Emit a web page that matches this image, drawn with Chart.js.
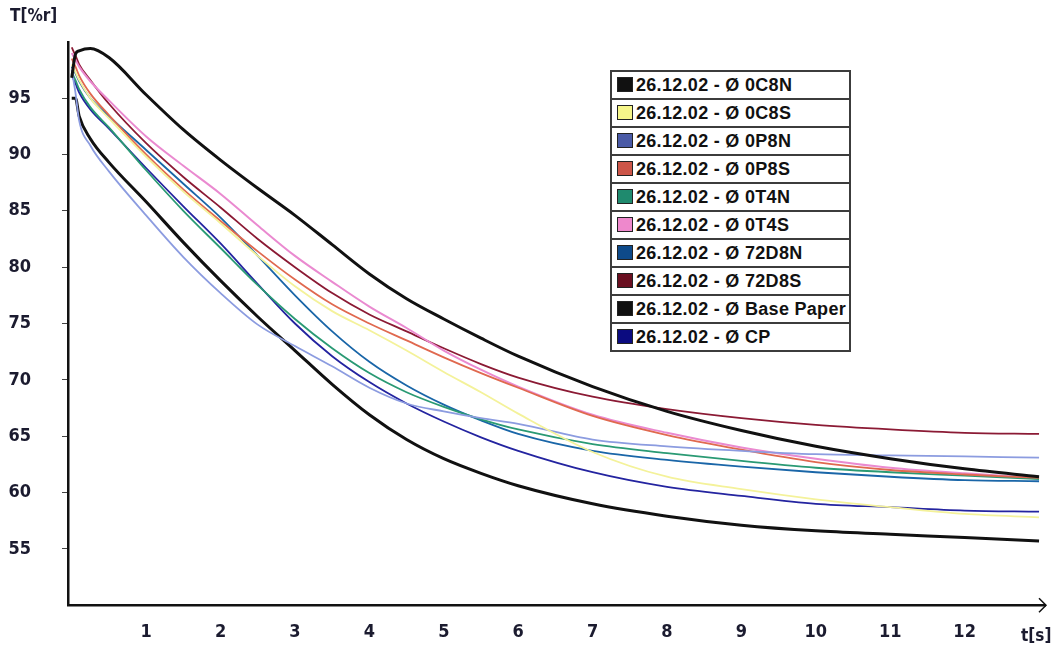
<!DOCTYPE html>
<html>
<head>
<meta charset="utf-8">
<script src="https://cdn.jsdelivr.net/npm/chart.js@4.4.1/dist/chart.umd.min.js"></script>
<style>
  html, body { margin: 0; padding: 0; background: #fff; }
  #wrap { position: relative; width: 1051px; height: 647px; overflow: hidden; }
  #chart { position: absolute; left: 0; top: 0; }
  .axisTitle { position: absolute; font: bold 17px "Liberation Sans Narrow", "DejaVu Sans Condensed", sans-serif; color: #1b1b2f; }
  #legend { position: absolute; left: 610px; top: 70px; width: 241px; table-layout: fixed; border-collapse: collapse; background: #fff; }
  #legend td { border: 2px solid #3c3c3c; height: 26px; padding: 0 0 0 5px; overflow: hidden;
    font: bold 18px "Liberation Sans", Arial, sans-serif; letter-spacing: 0.3px; color: #111; white-space: nowrap; }
  .sw { display: inline-block; width: 14px; height: 13px; border: 1px solid #222; vertical-align: -1px; margin-right: 3px; }
</style>
</head>
<body>
<div id="wrap">
  <canvas id="chart" width="1051" height="647"></canvas>
  <div class="axisTitle" style="left:10px; top:5px;">T[%r]</div>
  <div class="axisTitle" style="left:1021px; top:625px;">t[s]</div>
  <table id="legend"></table>
</div>
<script>
// time axis (s)
const times = [0, 0.05, 0.1, 0.25, 0.5, 1, 1.5, 2, 2.5, 3, 3.5, 4, 4.5, 5, 5.5, 6, 7, 8, 9, 10, 11, 12, 13];

const seriesNames = [
  '26.12.02 - Ø 0C8N', '26.12.02 - Ø 0C8S', '26.12.02 - Ø 0P8N', '26.12.02 - Ø 0P8S', '26.12.02 - Ø 0T4N',
  '26.12.02 - Ø 0T4S', '26.12.02 - Ø 72D8N', '26.12.02 - Ø 72D8S', '26.12.02 - Ø Base Paper', '26.12.02 - Ø CP'
];

// T [%r]
const s0C8N  = [96.8, 98.9, 99.2, 99.4, 98.6, 95.3, 92.2, 89.5, 87.0, 84.6, 82.0, 79.4, 77.2, 75.4, 73.7, 72.1, 69.4, 67.2, 65.5, 64.1, 63.0, 62.1, 61.4];
const s0C8S  = [98.0, 97.3, 96.6, 95.0, 93.2, 89.8, 86.7, 83.9, 81.0, 78.3, 76.1, 74.4, 72.6, 70.7, 68.9, 67.0, 63.6, 61.4, 60.3, 59.4, 58.7, 58.1, 57.8];
const s0P8N  = [97.5, 95.5, 93.0, 90.8, 88.5, 84.6, 80.9, 77.7, 74.9, 73.0, 71.2, 69.3, 67.9, 67.2, 66.6, 66.1, 64.7, 64.1, 63.7, 63.4, 63.3, 63.2, 63.1];
const s0P8S  = [98.5, 97.8, 97.0, 95.4, 93.5, 90.0, 86.9, 84.1, 81.4, 78.9, 76.7, 75.0, 73.5, 72.0, 70.6, 69.3, 66.8, 65.1, 63.8, 62.7, 62.0, 61.6, 61.3];
const s0T4N  = [97.3, 96.6, 95.8, 94.2, 92.4, 88.6, 85.0, 81.7, 78.4, 75.4, 72.8, 70.6, 68.9, 67.6, 66.5, 65.6, 64.3, 63.5, 62.8, 62.2, 61.8, 61.5, 61.2];
const s0T4S  = [99.0, 98.4, 97.8, 96.5, 94.8, 91.6, 89.0, 86.5, 83.7, 81.0, 78.7, 76.5, 74.6, 72.6, 70.9, 69.4, 66.9, 65.3, 64.0, 63.0, 62.2, 61.7, 61.3];
const s72D8N = [97.8, 97.2, 96.5, 95.0, 93.4, 90.4, 87.4, 84.4, 81.0, 77.5, 74.3, 71.6, 69.5, 67.8, 66.4, 65.2, 63.7, 62.9, 62.3, 61.8, 61.4, 61.1, 61.0];
const s72D8S = [99.5, 98.8, 98.0, 96.6, 94.5, 91.0, 88.0, 85.3, 82.5, 80.0, 77.7, 75.8, 74.3, 72.8, 71.4, 70.2, 68.5, 67.4, 66.6, 66.0, 65.6, 65.3, 65.2];
const sBase  = [95.0, 95.0, 93.4, 91.4, 89.3, 85.8, 82.2, 78.8, 75.6, 72.6, 69.6, 66.9, 64.7, 63.0, 61.7, 60.6, 59.0, 57.9, 57.1, 56.6, 56.3, 56.0, 55.7];
const sCP    = [97.0, 96.3, 95.5, 94.0, 92.3, 88.8, 85.4, 82.1, 78.5, 75.0, 72.1, 69.8, 67.9, 66.3, 64.9, 63.7, 61.8, 60.5, 59.7, 59.0, 58.7, 58.4, 58.3];

const xTicks = [1, 2, 3, 4, 5, 6, 7, 8, 9, 10, 11, 12];
const yTicks = [55, 60, 65, 70, 75, 80, 85, 90, 95];

const seriesValues = [s0C8N, s0C8S, s0P8N, s0P8S, s0T4N, s0T4S, s72D8N, s72D8S, sBase, sCP];
const lineColors = ['#111111', '#f4f29a', '#8c9ce0', '#e0694f', '#2a9a74', '#ea8ad0', '#1a66a8', '#8b1a34', '#111111', '#2424a0'];
const swatchColors = ['#111111', '#f6f68a', '#4a5aa6', '#cc5548', '#1f8a6e', '#ee88cc', '#0e4a8a', '#6a0f20', '#111111', '#0b0b80'];
const lineWidths = [3, 1.8, 1.8, 1.8, 1.8, 2, 1.8, 1.8, 3, 1.8];

const axisFont = { family: '"Liberation Sans Narrow", "DejaVu Sans Condensed", sans-serif', size: 18, weight: 'bold' };

const axisArrow = {
  id: 'axisArrow',
  afterDraw(chart) {
    const { ctx, chartArea: a } = chart;
    ctx.save();
    ctx.strokeStyle = '#111';
    ctx.lineWidth = 1.5;
    ctx.beginPath();
    ctx.moveTo(a.right - 6, a.bottom - 7);
    ctx.lineTo(a.right + 1, a.bottom);
    ctx.lineTo(a.right - 6, a.bottom + 7);
    ctx.stroke();
    ctx.restore();
  }
};

const chart = new Chart(document.getElementById('chart'), {
  type: 'line',
  data: {
    datasets: seriesNames.map((name, i) => ({
      label: name,
      data: times.map((t, j) => ({ x: t, y: seriesValues[i][j] })),
      borderColor: lineColors[i],
      backgroundColor: swatchColors[i],
      borderWidth: lineWidths[i],
      pointRadius: 0,
      cubicInterpolationMode: 'monotone',
      fill: false
    }))
  },
  options: {
    responsive: false,
    animation: false,
    layout: { padding: { top: 40, right: 6, left: 0, bottom: 0 } },
    plugins: { legend: { display: false }, tooltip: { enabled: false } },
    scales: {
      x: {
        type: 'linear',
        min: -0.05,
        max: 13.08,
        afterBuildTicks: (s) => { s.ticks = xTicks.map(v => ({ value: v })); },
        afterFit: (s) => { s.height = 35; },
        grid: { drawOnChartArea: false, drawTicks: false },
        border: { color: '#111', width: 2.5 },
        ticks: { font: axisFont, color: '#1b1b2f', padding: 16, maxRotation: 0 }
      },
      y: {
        min: 50,
        max: 100,
        afterBuildTicks: (s) => { s.ticks = yTicks.map(v => ({ value: v })); },
        afterFit: (s) => { s.width = 68; },
        grid: { drawOnChartArea: false, tickLength: 6, color: '#444' },
        border: { color: '#111', width: 2.5 },
        ticks: { font: axisFont, color: '#1b1b2f', padding: 31 }
      }
    }
  },
  plugins: [axisArrow]
});

// legend as an html table, built from the datasets
const legend = document.getElementById('legend');
chart.data.datasets.forEach((ds) => {
  const row = legend.insertRow();
  const cell = row.insertCell();
  const sw = document.createElement('span');
  sw.className = 'sw';
  sw.style.background = ds.backgroundColor;
  cell.appendChild(sw);
  cell.appendChild(document.createTextNode(ds.label));
});
</script>
</body>
</html>
